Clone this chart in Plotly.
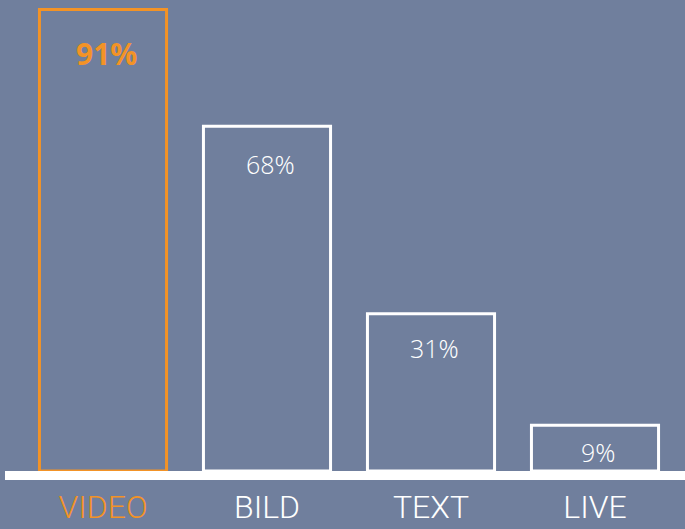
import plotly.graph_objects as go

categories = ["VIDEO", "BILD", "TEXT", "LIVE"]
values = [91, 68, 31, 9]
value_labels = ["91%", "68%", "31%", "9%"]
bar_colors = ["#f39326", "#ffffff", "#ffffff", "#ffffff"]
label_shift = [-44, -38, -34, -27]

BG = "#707f9d"
THIN = "Open Sans Light, Roboto Light, Lato Light, Open Sans"

fig = go.Figure()
fig.add_trace(go.Bar(
    x=categories, y=values,
    marker=dict(color="rgba(0,0,0,0)", line=dict(color=bar_colors, width=3)),
    width=0.775,
    hoverinfo="skip",
    cliponaxis=False,
))

for c, v, t, col, s in zip(categories, values, value_labels, bar_colors, label_shift):
    bold = col != "#ffffff"
    fig.add_annotation(
        x=c, y=v, text=t, showarrow=False, yanchor="middle", yshift=s, xshift=3,
        font=dict(family="Open Sans" if bold else THIN, size=30 if bold else 25,
                  color=col, weight=700 if bold else 300),
    )

ticktext = [f'<span style="color:{col}">{c}</span>' for c, col in zip(categories, bar_colors)]

fig.add_shape(type="rect", xref="paper", yref="paper",
              x0=0, x1=1.01, y0=0, y1=-9/471,
              fillcolor="#ffffff", line=dict(width=0), layer="above")

fig.update_layout(
    width=685, height=529,
    margin=dict(l=5, r=0, t=0, b=58, autoexpand=False),
    paper_bgcolor=BG, plot_bgcolor=BG,
    showlegend=False,
    xaxis=dict(
        range=[-0.5976, 3.5488], tickmode="array", tickvals=categories,
        ticktext=ticktext, showgrid=False, zeroline=False, showline=False,
        ticks="", ticklabelstandoff=14, automargin=False,
        tickfont=dict(family="Roboto Light, Roboto", size=32, color="#ffffff", weight=300),
    ),
    yaxis=dict(range=[0, 92.88], visible=False, showgrid=False, zeroline=False,
               automargin=False),
)

fig.write_html("out.html")
